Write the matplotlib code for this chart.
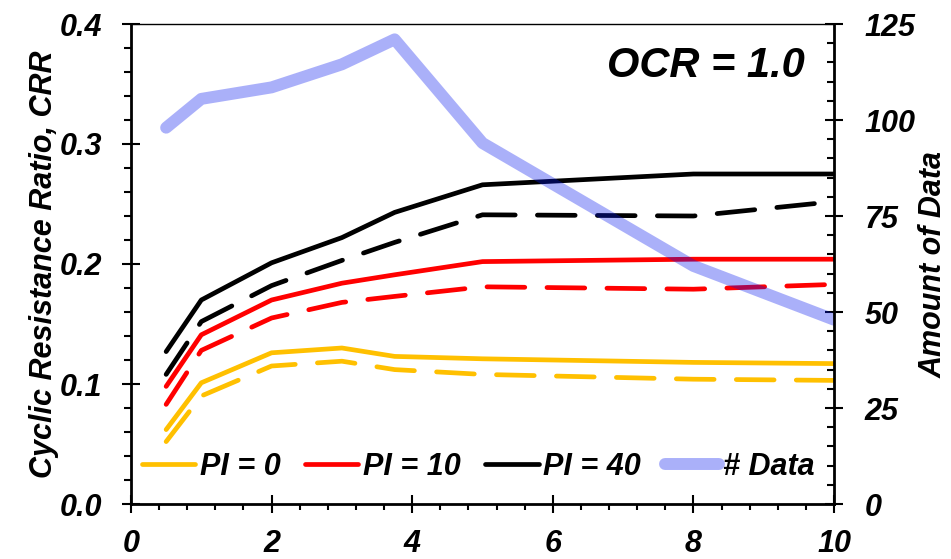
import numpy as np
import matplotlib
matplotlib.use("Agg")
import matplotlib.pyplot as plt
from matplotlib.ticker import MultipleLocator

plt.rcParams['font.family'] = ['Liberation Sans', 'DejaVu Sans']
plt.rcParams['font.weight'] = 'bold'
plt.rcParams['font.style'] = 'italic'
plt.rcParams['axes.labelweight'] = 'bold'

# x positions of the curves
x = [0.5, 1, 2, 3, 3.75, 5, 8, 10]

# CRR curves, solid and dashed for each PI
crr_pi0 = [0.062, 0.101, 0.126, 0.130, 0.123, 0.121, 0.118, 0.117]
crr_pi0_d = [0.052, 0.090, 0.115, 0.119, 0.112, 0.108, 0.104, 0.103]
crr_pi10 = [0.098, 0.141, 0.170, 0.184, 0.191, 0.202, 0.204, 0.204]
crr_pi10_d = [0.083, 0.128, 0.155, 0.168, 0.173, 0.181, 0.179, 0.183]
crr_pi40 = [0.127, 0.170, 0.201, 0.222, 0.243, 0.266, 0.275, 0.275]
crr_pi40_d = [0.108, 0.152, 0.182, 0.203, 0.218, 0.241, 0.240, 0.252]

# number of data points
n_data = [98, 105.5, 108.5, 114.5, 121, 94, 62, 48]

fig = plt.figure(figsize=(9.51, 5.59), dpi=100)
ax = fig.add_axes([131/951, 55/559, 703/951, 480/559])
ax2 = ax.twinx()

lw = 3.4
dash = (8.0, 4.7)
cols = {'0': '#ffc000', '10': '#ff0000', '40': '#000000'}

l0, = ax.plot(x, crr_pi0, color=cols['0'], lw=lw, solid_capstyle='round', label='PI = 0')
ax.plot(x, crr_pi0_d, color=cols['0'], lw=lw, dashes=dash, dash_capstyle='round')
l10, = ax.plot(x, crr_pi10, color=cols['10'], lw=lw, solid_capstyle='round', label='PI = 10')
ax.plot(x, crr_pi10_d, color=cols['10'], lw=lw, dashes=dash, dash_capstyle='round')
l40, = ax.plot(x, crr_pi40, color=cols['40'], lw=lw, solid_capstyle='round', label='PI = 40')
ax.plot(x, crr_pi40_d, color=cols['40'], lw=lw, dashes=dash, dash_capstyle='round')

ld, = ax2.plot(x, n_data, color='#0818f0', alpha=0.34, lw=8.6,
               solid_capstyle='round', solid_joinstyle='round', label='# Data')

ax.set_xlim(0, 10)
ax.set_ylim(0, 0.4)
ax2.set_ylim(0, 125)

ax.xaxis.set_major_locator(MultipleLocator(2))
ax.xaxis.set_minor_locator(MultipleLocator(0.4))
ax.yaxis.set_major_locator(MultipleLocator(0.1))
ax.yaxis.set_minor_locator(MultipleLocator(0.02))
ax.yaxis.set_major_formatter(lambda v, p: f'{v:.1f}')
ax2.yaxis.set_major_locator(MultipleLocator(25))
ax2.yaxis.set_minor_locator(MultipleLocator(5))

for s in ['left', 'bottom']:
    ax.spines[s].set_linewidth(2)
ax.spines['top'].set_linewidth(1)
ax.spines['right'].set_visible(False)
for s in ['left', 'bottom', 'top']:
    ax2.spines[s].set_visible(False)
ax2.spines['right'].set_linewidth(2)

ax.tick_params(axis='x', which='major', direction='inout', length=13.5, width=1.5,
               pad=11, labelsize=22)
ax.tick_params(axis='x', which='minor', direction='out', length=4.5, width=1.5)
ax.tick_params(axis='y', which='major', direction='inout', length=13.5, width=1.5,
               pad=14, labelsize=22)
ax.tick_params(axis='y', which='minor', direction='out', length=5, width=1.5)
ax2.tick_params(axis='y', which='major', direction='inout', length=13.5, width=1.5,
                pad=15.5, labelsize=22)
ax2.tick_params(axis='y', which='minor', direction='in', length=5, width=1.5)

ax.set_ylabel('Cyclic Resistance Ratio, CRR', fontsize=22)
ax.yaxis.set_label_coords(-0.102, 0.5)
ax2.set_ylabel('Amount of Data', fontsize=22)
ax2.yaxis.set_label_coords(1.121, 0.5)

ax.text(0.959, 0.9125, 'OCR = 1.0', transform=ax.transAxes, ha='right', va='center',
        fontsize=30)

ax2.legend([l0, l10, l40, ld], ['PI = 0', 'PI = 10', 'PI = 40', '# Data'],
           ncol=4, loc='center', bbox_to_anchor=(0.494, 0.077), frameon=False,
           fontsize=22, handlelength=1.75, handletextpad=0.15, columnspacing=0.8,
           borderaxespad=0)

fig.savefig('out.png', dpi=100)
